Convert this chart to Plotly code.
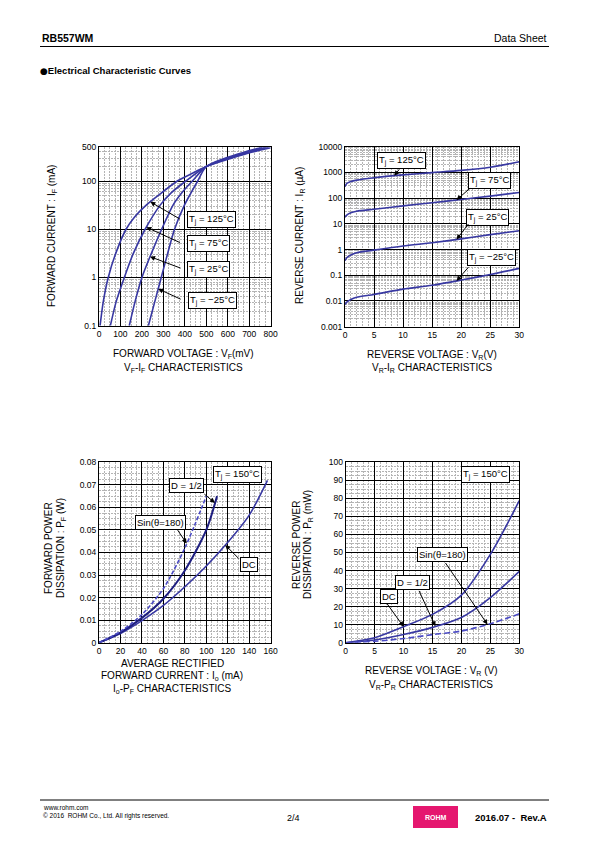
import numpy as np
import plotly.graph_objects as go

F = "Liberation Sans"
W, H = 595, 842
BLUE = "#3838a2"
NAVY = "#1e1e80"
DASHB = "#4a4ac4"

# ---------------- data ----------------
# Chart 1: VF-IF (mV, mA)
vf_125 = [5, 20, 43, 78, 126, 165, 220, 290, 365, 430, 500, 620, 715, 800]
if_125 = [0.1, 0.316, 1, 3.16, 10, 17.8, 31.6, 56.2, 100, 141, 200, 300, 400, 490]
vf_75 = [53, 80, 118, 160, 215, 285, 335, 405, 500, 610, 705, 790]
if_75 = [0.1, 0.316, 1, 3.16, 10, 31.6, 56.2, 100, 200, 300, 400, 500]
vf_25 = [141, 168, 200, 244, 292, 345, 385, 435, 500, 600, 695, 775]
if_25 = [0.1, 0.316, 1, 3.16, 10, 31.6, 56.2, 100, 200, 300, 400, 500]
vf_m25 = [230, 260, 290, 320, 352, 398, 428, 460, 500, 590, 680, 760]
if_m25 = [0.1, 0.316, 1, 3.16, 10, 31.6, 56.2, 100, 200, 300, 400, 500]

# Chart 2: VR-IR (V, uA)
vr = [0, 0.3, 1, 2, 5, 10, 15, 20, 25, 30]
ir_125 = [280, 370, 440, 500, 620, 800, 980, 1200, 1600, 2600]
ir_75 = [18, 22, 27, 31, 37, 50, 66, 89, 120, 166]
ir_25 = [0.37, 0.48, 0.61, 0.75, 0.95, 1.37, 1.84, 2.6, 3.8, 5.4]
ir_m25 = [0.0073, 0.009, 0.0115, 0.014, 0.018, 0.029, 0.041, 0.065, 0.107, 0.185]

# Chart 3: Io-PF (mA, W)
io_dc = [0, 20, 40, 60, 80, 100, 120, 140, 157]
pf_dc = [0, 0.0041, 0.0098, 0.0165, 0.0248, 0.034, 0.0445, 0.0566, 0.072]
io_d = [0, 20, 40, 60, 80, 100, 110]
pf_d = [0, 0.0045, 0.011, 0.0195, 0.032, 0.050, 0.065]
io_sin = [0, 20, 40, 60, 80, 100]
pf_sin = [0, 0.005, 0.0125, 0.024, 0.042, 0.065]

# Chart 4: VR-PR (V, mW)
vr4 = [0, 5, 10, 15, 20, 25, 30]
pr_dc = [0, 2.8, 8.9, 15.7, 26.4, 49, 78.7]
pr_d = [0, 1.5, 4.5, 8.5, 14, 25, 39.5]
pr_sin = [0, 0.8, 2.3, 4.5, 6.5, 10.5, 16]

# tick labels
t1x = [0, 100, 200, 300, 400, 500, 600, 700, 800]
t1y = [0.1, 1, 10, 100, 500]
t2y = [0.001, 0.01, 0.1, 1, 10, 100, 1000, 10000]
t2x = [0, 5, 10, 15, 20, 25, 30]
t3y = [0, 0.01, 0.02, 0.03, 0.04, 0.05, 0.06, 0.07, 0.08]
t4y = [0, 10, 20, 30, 40, 50, 60, 70, 80, 90, 100]


def px(x):
    return x / W


def py(y):
    return 1 - y / H


fig = go.Figure()


def line(x, y, ax, color=BLUE, width=1.6, dash="solid"):
    fig.add_trace(go.Scatter(x=x, y=y, mode="lines", xaxis="x" + ax, yaxis="y" + ax,
                             line=dict(color=color, width=width, dash=dash, shape="spline", smoothing=0.8),
                             showlegend=False, hoverinfo="skip"))


for xs, ys in [(vf_125, if_125), (vf_75, if_75), (vf_25, if_25), (vf_m25, if_m25)]:
    line(xs, ys, "")
for ys in [ir_125, ir_75, ir_25, ir_m25]:
    line(vr, ys, "2")
line(io_dc, pf_dc, "3")
line(io_d, pf_d, "3", color=NAVY, width=2)
line(io_sin, pf_sin, "3", color=DASHB, width=1.6, dash="4px,2px")
line(vr4, pr_dc, "4")
line(vr4, pr_d, "4")
line(vr4, pr_sin, "4", color=DASHB, dash="6px,3px")


def axis(dom, **kw):
    d = dict(domain=dom, showgrid=True, gridcolor="black", gridwidth=1, showline=True, mirror=True,
             linecolor="black", linewidth=1.2, ticks="", zeroline=False, automargin=False,
             tickfont=dict(family=F, size=8.5, color="black"), fixedrange=True)
    d.update(kw)
    return d


MIN = dict(showgrid=True, gridcolor="#b4b4b4", griddash="2px,1px", gridwidth=1)

X1 = [99 / W, 270.7 / W]
X2 = [345 / W, 519.3 / W]
X3 = [99 / W, 270.7 / W]
X4 = [345.7 / W, 519.3 / W]
Y1 = [py(325.7), py(147.3)]
Y2 = [py(326.7), py(146.7)]
Y3 = [py(642.7), py(462.3)]
Y4 = [py(642.7), py(462.3)]

fig.update_layout(
    width=W, height=H, autosize=False,
    margin=dict(l=0, r=0, t=0, b=0, pad=0, autoexpand=False),
    paper_bgcolor="white", plot_bgcolor="white", showlegend=False,
    xaxis=axis(X1, anchor="y", range=[0, 800], tickvals=t1x, minor=dict(dtick=25, **MIN)),
    yaxis=axis(Y1, anchor="x", type="log", range=[-1, np.log10(500)], tickvals=t1y,
               ticktext=[str(v) for v in t1y], minor=dict(dtick="D1", **MIN)),
    xaxis2=axis(X2, anchor="y2", range=[0, 30], tickvals=t2x, minor=dict(dtick=1, **MIN)),
    yaxis2=axis(Y2, anchor="x2", type="log", range=[-3, 4], tickvals=t2y,
                ticktext=[("%g" % v) if v < 1 else str(int(v)) for v in t2y], minor=dict(dtick="D1", **MIN)),
    xaxis3=axis(X3, anchor="y3", range=[0, 160], dtick=20, tick0=0, minor=dict(dtick=5, **MIN)),
    yaxis3=axis(Y3, anchor="x3", range=[0, 0.08], tickvals=t3y,
                ticktext=[("%g" % v) for v in t3y], minor=dict(dtick=0.0025, **MIN)),
    xaxis4=axis(X4, anchor="y4", range=[0, 30], tickvals=t2x, minor=dict(dtick=1, **MIN)),
    yaxis4=axis(Y4, anchor="x4", range=[0, 100], tickvals=t4y, minor=dict(dtick=2.5, **MIN)),
)

ann = []


def ptext(x, y, text, size=10, bold=False, anchor="center", box=False, angle=0):
    d = dict(xref="paper", yref="paper", x=px(x), y=py(y), text=("<b>%s</b>" % text) if bold else text,
             showarrow=False, font=dict(family=F, size=size, color="black"), xanchor=anchor, yanchor="middle",
             textangle=angle)
    if box:
        d.update(bordercolor="black", borderwidth=1, bgcolor="white", borderpad=1)
    ann.append(d)


def arrow(ax_id, xv, yv, dx, dy, logy=False):
    ann.append(dict(xref="x" + ax_id, yref="y" + ax_id, x=xv, y=np.log10(yv) if logy else yv, ax=dx, ay=dy,
                    text="", showarrow=True, arrowhead=2, arrowsize=1, arrowwidth=1, arrowcolor="black"))


def on_curve_x(xs, ys, yv, logy=True):
    if logy:
        return float(np.interp(np.log10(yv), np.log10(ys), xs))
    return float(np.interp(yv, ys, xs))


def on_curve_y(xs, ys, xv, logy=True):
    if logy:
        return float(10 ** np.interp(xv, xs, np.log10(ys)))
    return float(np.interp(xv, xs, ys))


LB = 9.5  # label box font size
# Chart 1 labels
ptext(211, 220, "T<sub>j</sub> = 125°C", LB, box=True)
ptext(208.5, 243.5, "T<sub>j</sub> = 75°C", LB, box=True)
ptext(208.5, 269, "T<sub>j</sub> = 25°C", LB, box=True)
ptext(212, 300.5, "T<sub>j</sub> = \u221225°C", LB, box=True)
arrow("", on_curve_x(vf_125, if_125, 37), 37, 31, 18, True)
arrow("", on_curve_x(vf_75, if_75, 11), 11, 35, 16, True)
arrow("", on_curve_x(vf_25, if_25, 2.7), 2.7, 32, 12, True)
arrow("", on_curve_x(vf_m25, if_m25, 0.58), 0.58, 24, 11, True)

# Chart 2 labels
ptext(401, 160.5, "T<sub>j</sub> = 125°C", LB, box=True)
ptext(489, 180, "T<sub>j</sub> = 75°C", LB, box=True)
ptext(487, 217, "T<sub>j</sub> = 25°C", LB, box=True)
ptext(491, 257.5, "T<sub>j</sub> = \u221225°C", LB, box=True)
arrow("2", 8.5, on_curve_y(vr, ir_125, 8.5), 6, -8, True)
arrow("2", 19.2, on_curve_y(vr, ir_75, 19.2), 15, -13, True)
arrow("2", 19.2, on_curve_y(vr, ir_25, 19.2), 13, -17, True)
arrow("2", 19.2, on_curve_y(vr, ir_m25, 19.2), 13, -15, True)

# Chart 3 labels
ptext(237.5, 474, "T<sub>j</sub> = 150°C", LB, box=True)
ptext(186.5, 485, "D = 1/2", LB, box=True)
ptext(160.5, 522.5, "Sin(θ=180)", LB, box=True)
ptext(248.5, 564, "DC", LB, box=True)
arrow("3", 108, on_curve_y(io_d, pf_d, 108, False), -12, -10)
arrow("3", 81.7, on_curve_y(io_sin, pf_sin, 81.7, False), -10, -15)
arrow("3", 117.7, on_curve_y(io_dc, pf_dc, 117.7, False), 15, 15)

# Chart 4 labels
ptext(485, 474, "T<sub>j</sub> = 150°C", LB, box=True)
ptext(442.5, 554, "Sin(θ=180)", LB, box=True)
ptext(412.5, 582, "D = 1/2", LB, box=True)
ptext(388.5, 596, "DC", LB, box=True)
arrow("4", 24.5, on_curve_y(vr4, pr_sin, 24.5, False), -43, -63)
arrow("4", 15.5, on_curve_y(vr4, pr_d, 15.5, False), -17, -37)
arrow("4", 10, on_curve_y(vr4, pr_dc, 10, False), -18, -25)

# axis titles
AT = 10
ptext(52, 236, "FORWARD CURRENT : I<sub>F</sub> (mA)", AT, angle=-90)
ptext(183, 354, "FORWARD VOLTAGE : V<sub>F</sub>(mV)", AT)
ptext(183, 367.5, "V<sub>F</sub>-I<sub>F</sub> CHARACTERISTICS", AT)
ptext(300, 236, "REVERSE CURRENT : I<sub>R</sub> (µA)", AT, angle=-90)
ptext(432, 354.5, "REVERSE VOLTAGE : V<sub>R</sub>(V)", AT)
ptext(432, 368, "V<sub>R</sub>-I<sub>R</sub> CHARACTERISTICS", AT)
ptext(48, 548, "FORWARD POWER", AT, angle=-90)
ptext(61, 548, "DISSIPATION : P<sub>F</sub> (W)", AT, angle=-90)
ptext(172, 663, "AVERAGE RECTIFIED", AT)
ptext(172, 675.5, "FORWARD CURRENT : I<sub>o</sub> (mA)", AT)
ptext(172, 688.5, "I<sub>o</sub>-P<sub>F</sub> CHARACTERISTICS", AT)
ptext(296, 545, "REVERSE POWER", AT, angle=-90)
ptext(308, 545, "DISSIPATION : P<sub>R</sub> (mW)", AT, angle=-90)
ptext(431, 671, "REVERSE VOLTAGE : V<sub>R</sub> (V)", AT)
ptext(431, 684.5, "V<sub>R</sub>-P<sub>R</sub> CHARACTERISTICS", AT)

# header / footer
ptext(40, 38, "RB557WM", 10.5, bold=True, anchor="left")
ptext(549, 38, "Data Sheet", 10.5, anchor="right")
ptext(38, 71, "<span style=\"font-family:'DejaVu Sans';font-size:9px\">●</span>Electrical Characteristic Curves",
      9.5, bold=True, anchor="left")
ptext(41, 807, "www.rohm.com", 6.5, anchor="left")
ptext(41, 816, "© 2016  ROHM Co., Ltd. All rights reserved.", 6.5, anchor="left")
ptext(293, 818, "2/4", 9, anchor="center")
ptext(549, 817, "2016.07 -  Rev.A", 9.5, bold=True, anchor="right")
ptext(435.5, 817, "ROHM", 7, bold=True)
ann[-1]["font"]["color"] = "white"

shapes = [
    dict(type="line", xref="paper", yref="paper", x0=px(40), x1=px(549), y0=py(46.5), y1=py(46.5),
         line=dict(color="black", width=1)),
    dict(type="line", xref="paper", yref="paper", x0=px(40), x1=px(549), y0=py(800), y1=py(800),
         line=dict(color="black", width=1)),
    dict(type="rect", xref="paper", yref="paper", x0=px(413), x1=px(458), y0=py(828), y1=py(806),
         fillcolor="#e5176f", line=dict(width=0), layer="below"),
]

fig.update_layout(annotations=ann, shapes=shapes)

CSS_FIX = (
    "(function(){var s=document.createElement('style');"
    "s.textContent='html,body{margin:0;padding:0;overflow:hidden;width:595px;height:842px;}';"
    "document.head.appendChild(s);})();"
)
fig.write_html("out.html", post_script=CSS_FIX, config={"displayModeBar": False, "responsive": False})
